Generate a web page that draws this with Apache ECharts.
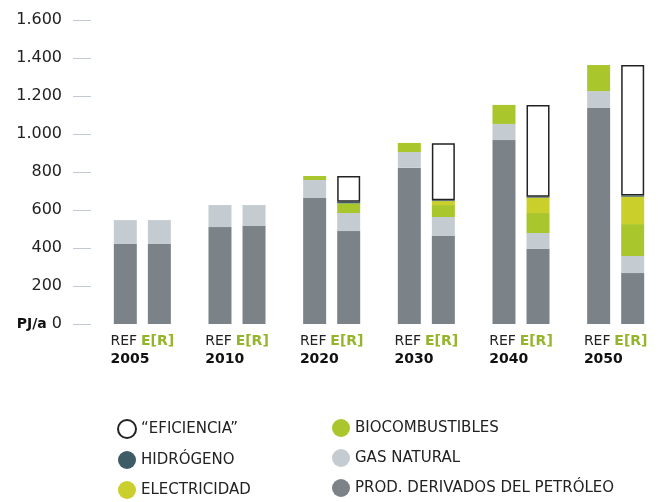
<!DOCTYPE html>
<html>
<head>
<meta charset="utf-8">
<script src="https://cdn.jsdelivr.net/npm/echarts@6/dist/echarts.min.js"></script>
<style>
  html, body { margin: 0; padding: 0; background: #fff; }
  #chart { width: 672px; height: 502px; }
</style>
</head>
<body>
<div id="chart"></div>
<script>
// años y valores (PJ/a)
var years = ['2005', '2010', '2020', '2030', '2040', '2050'];
var yTicks = [0, 200, 400, 600, 800, 1000, 1200, 1400, 1600];

// escenario de referencia
var refPetroleo = [421, 510, 663, 823, 968, 1137];
var refGas      = [126, 116, 95, 82, 85, 89];
var refBio      = [0, 0, 21, 48, 100, 137];

// escenario E[R]
var erPetroleo   = [421, 516, 489, 463, 395, 268];
var erGas        = [126, 110, 95, 100, 84, 90];
var erBio        = [0, 0, 51, 63, 105, 168];
var erElec       = [0, 0, 0, 21, 81, 144];
var erHidrogeno  = [0, 0, 8, 4, 5, 6];
var erEficiencia = [0, 0, 136, 300, 483, 687];

var N_EFI = '\u201CEFICIENCIA\u201D';
var N_BIO = 'BIOCOMBUSTIBLES';
var N_HID = 'HIDRÓGENO';
var N_GAS = 'GAS NATURAL';
var N_ELE = 'ELECTRICIDAD';
var N_PET = 'PROD. DERIVADOS DEL PETRÓLEO';

var C_PET = '#7b8388';
var C_GAS = '#c5ccd1';
var C_BIO = '#a9c62c';
var C_ELE = '#cacf2b';
var C_HID = '#3e5c66';

var FONT = 'DejaVu Sans';

function fmt(v) {
  return String(v).replace(/\B(?=(\d{3})+(?!\d))/g, '.');
}

function bar(name, stack, data, color, extra) {
  var s = {
    name: name, type: 'bar', stack: stack,
    // los ceros no se dibujan (evita bordes sueltos)
    data: data.map(function (v) { return v === 0 ? '-' : v; }),
    barWidth: 23, barGap: '48%',
    itemStyle: { color: color },
    emphasis: { disabled: true }
  };
  if (extra) s.itemStyle = extra;
  return s;
}

var legendText = { fontFamily: FONT, fontSize: 15, color: '#222' };

var chart = echarts.init(document.getElementById('chart'));
chart.setOption({
  animation: false,
  textStyle: { fontFamily: FONT },
  grid: { left: 95, right: 9, top: 20, bottom: 178 },
  legend: [{
    orient: 'vertical', left: 117, top: 419, padding: 0, itemGap: 12,
    icon: 'circle', itemWidth: 18, itemHeight: 18, textStyle: legendText,
    data: [N_EFI, N_HID, N_ELE]
  }, {
    orient: 'vertical', left: 332, top: 419, padding: 0, itemGap: 12,
    icon: 'circle', itemWidth: 18, itemHeight: 18, textStyle: legendText,
    data: [N_BIO, N_GAS, N_PET]
  }],
  xAxis: {
    type: 'category', data: years,
    axisLine: { show: false }, axisTick: { show: false },
    axisLabel: {
      margin: 8, interval: 0,
      formatter: function (v) { return '{r|REF} {e|E[R]}\n{y|' + v + '}'; },
      rich: {
        r: { fontFamily: FONT, fontSize: 14, color: '#222', lineHeight: 18 },
        e: { fontFamily: FONT, fontSize: 14, fontWeight: 'bold', color: '#94b42a', lineHeight: 18 },
        y: { fontFamily: FONT, fontSize: 14, fontWeight: 'bold', color: '#111', lineHeight: 18, align: 'left' }
      }
    }
  },
  yAxis: {
    type: 'value', min: 0, max: 1600, interval: 200, offset: 4,
    axisLine: { show: false },
    axisTick: { show: true, length: 18, lineStyle: { color: '#c3c8d6', width: 1 } },
    splitLine: { show: false },
    axisLabel: {
      margin: 29, fontFamily: FONT, fontSize: 16, color: '#222',
      customValues: yTicks,
      formatter: function (v) { return v === 0 ? '{b|PJ/a} 0' : fmt(v); },
      rich: { b: { fontFamily: FONT, fontSize: 14, fontWeight: 'bold', color: '#111' } }
    }
  },
  series: [
    bar(N_PET, 'ref', refPetroleo, C_PET),
    bar(N_GAS, 'ref', refGas, C_GAS),
    bar(N_BIO, 'ref', refBio, C_BIO),
    bar(N_PET, 'er', erPetroleo, C_PET),
    bar(N_GAS, 'er', erGas, C_GAS),
    bar(N_BIO, 'er', erBio, C_BIO),
    bar(N_ELE, 'er', erElec, C_ELE),
    bar(N_HID, 'er', erHidrogeno, C_HID),
    bar(N_EFI, 'er', erEficiencia, null, { color: '#fff', borderColor: '#222', borderWidth: 1.5 })
  ]
});
</script>
</body>
</html>
